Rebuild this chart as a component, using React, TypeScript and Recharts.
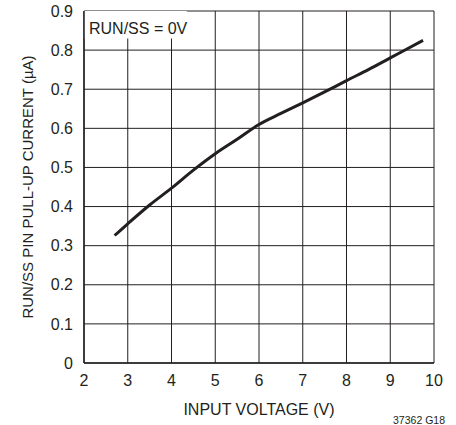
import React from "react";
import {
  LineChart,
  Line,
  XAxis,
  YAxis,
  CartesianGrid,
  ReferenceArea,
  Customized,
} from "recharts";

const inputVoltage = [2.7, 3, 3.5, 4, 4.5, 5, 5.5, 6, 6.5, 7, 7.5, 8, 8.5, 9, 9.75];
const pullUpCurrent = [0.326, 0.356, 0.404, 0.447, 0.493, 0.535, 0.572, 0.61, 0.638, 0.665, 0.693, 0.722, 0.75, 0.78, 0.825];

const xTicks = [2, 3, 4, 5, 6, 7, 8, 9, 10];
const yTicks = [0, 0.1, 0.2, 0.3, 0.4, 0.5, 0.6, 0.7, 0.8, 0.9];
const yTickLabels = ["0", "0.1", "0.2", "0.3", "0.4", "0.5", "0.6", "0.7", "0.8", "0.9"];

const FONT = "'Liberation Sans Narrow', 'Arial Narrow', 'Liberation Sans', Arial, sans-serif";
const INK = "#231f20";

const data = inputVoltage.map((v, i) => ({ v, i: pullUpCurrent[i] }));

// axis titles and the figure code sit outside the plot area
const Texts = () => (
  <g fontFamily={FONT} fill={INK}>
    <text
      x={0}
      y={0}
      transform="translate(27 187) rotate(-90)"
      textAnchor="middle"
      dominantBaseline="central"
      fontSize={15}
    >
      RUN/SS PIN PULL-UP CURRENT (µA)
    </text>
    <text x={259} y={409} textAnchor="middle" dominantBaseline="central" fontSize={16}>
      INPUT VOLTAGE (V)
    </text>
    <text x={445} y={420} textAnchor="end" dominantBaseline="central" fontSize={10.5}>
      37362 G18
    </text>
  </g>
);

export default function App() {
  return (
    <div style={{ position: "absolute", left: 0, top: 0, width: 456, height: 425, background: "#fff" }}>
      <LineChart
        width={456}
        height={425}
        data={data}
        margin={{ top: 11, right: 22, left: 0, bottom: 0 }}
      >
        <CartesianGrid stroke={INK} strokeWidth={1} horizontalValues={yTicks} verticalValues={xTicks} />
        <ReferenceArea
          x1={2}
          x2={4.35}
          y1={0.83}
          y2={0.9}
          fill="#fff"
          fillOpacity={1}
          stroke="none"
          label={{
            value: "RUN/SS = 0V",
            position: "insideLeft",
            offset: 5,
            dy: 4,
            fontSize: 16,
            fill: INK,
            fontFamily: FONT,
          }}
        />
        <XAxis
          dataKey="v"
          type="number"
          domain={[2, 10]}
          ticks={xTicks}
          height={62}
          tickLine={false}
          tickSize={0}
          tickMargin={12}
          axisLine={{ stroke: INK, strokeWidth: 1.5 }}
          tick={{ fill: INK, fontSize: 16, fontFamily: FONT }}
          interval={0}
        />
        <XAxis
          xAxisId="top"
          orientation="top"
          type="number"
          domain={[2, 10]}
          height={0}
          tick={false}
          tickLine={false}
          axisLine={{ stroke: INK, strokeWidth: 1.5 }}
        />
        <YAxis
          type="number"
          domain={[0, 0.9]}
          ticks={yTicks}
          width={84}
          tickLine={false}
          tickSize={0}
          tickMargin={11}
          axisLine={{ stroke: INK, strokeWidth: 1.5 }}
          tick={{ fill: INK, fontSize: 16, fontFamily: FONT }}
          tickFormatter={(val: number) => yTickLabels[yTicks.indexOf(val)] ?? String(val)}
          interval={0}
        />
        <YAxis
          yAxisId="right"
          orientation="right"
          type="number"
          domain={[0, 0.9]}
          width={0}
          tick={false}
          tickLine={false}
          axisLine={{ stroke: INK, strokeWidth: 1.5 }}
        />
        <Line
          dataKey="i"
          type="monotone"
          stroke={INK}
          strokeWidth={3}
          dot={false}
          isAnimationActive={false}
        />
        <Customized component={Texts} />
      </LineChart>
    </div>
  );
}
